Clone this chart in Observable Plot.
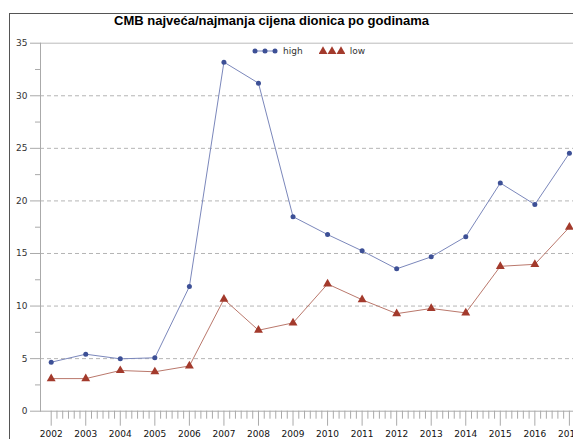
<!DOCTYPE html>
<html>
<head>
<meta charset="utf-8">
<script src="https://cdn.jsdelivr.net/npm/d3@7"></script>
<script src="https://cdn.jsdelivr.net/npm/@observablehq/plot@0.6"></script>
<style>
  html, body { margin: 0; padding: 0; background: #fff; }
  #wrap { position: relative; width: 573px; height: 439px; overflow: hidden; font-family: "Liberation Sans", Arial, sans-serif; }
  #frame { position: absolute; left: 9px; top: 13px; width: 600px; height: 500px; border-left: 1px solid #555; border-top: 1px solid #555; box-sizing: border-box; }
  #title { position: absolute; left: 0px; width: 543px; top: 13px; text-align: center; font-weight: bold; font-size: 13px; color: #000; white-space: nowrap; }
  #chart { position: absolute; left: 0; top: 0; }
  #legend { position: absolute; top: 45px; left: 252px; font-size: 9px; color: #333; display: flex; align-items: center; font-family: "DejaVu Sans", sans-serif; }
  #legend svg { display: block; }
</style>
</head>
<body>
<div id="wrap">
  <div id="frame"></div>
  <div id="chart"></div>
  <div id="title">CMB najveća/najmanja cijena dionica po godinama</div>
  <div id="legend"></div>
</div>
<script>
const years = [2002, 2003, 2004, 2005, 2006, 2007, 2008, 2009, 2010, 2011, 2012, 2013, 2014, 2015, 2016, 2017];
const high = [4.66, 5.42, 4.98, 5.08, 11.85, 33.2, 31.2, 18.5, 16.8, 15.25, 13.54, 14.68, 16.6, 21.7, 19.66, 24.54];
const low = [3.1, 3.1, 3.87, 3.75, 4.3, 10.65, 7.7, 8.4, 12.1, 10.6, 9.28, 9.77, 9.35, 13.78, 13.97, 17.5];
const seriesNames = ["high", "low"];
const yMajor = [0, 5, 10, 15, 20, 25, 30, 35];
const yMinor = [2.5, 7.5, 12.5, 17.5, 22.5, 27.5, 32.5];
const gridValues = [5, 10, 15, 20, 25, 30];

const highColor = "#3d5096", highLine = "#7b87bb";
const lowColor = "#a33a2c", lowLine = "#ba786c";

const rows = [];
years.forEach((yr, i) => {
  rows.push({year: yr, value: high[i], series: seriesNames[0]});
  rows.push({year: yr, value: low[i], series: seriesNames[1]});
});
const minorX = [];
years.forEach(yr => { for (let k = 1; k < 6; k++) minorX.push(yr + k / 6); });

const chart = Plot.plot({
  width: 573,
  height: 439,
  marginLeft: 40,
  marginRight: 0,
  marginTop: 42.7,
  marginBottom: 28.3,
  style: {fontFamily: "'DejaVu Sans', sans-serif", fontSize: "9px", color: "#333", background: "transparent"},
  x: {domain: [2002, 2017], range: [50.7, 568.9]},
  y: {domain: [0, 35]},
  marks: [
    Plot.ruleY(gridValues, {stroke: "#b5b5b5", strokeDasharray: "4,3", strokeWidth: 1}),
    Plot.ruleY([35], {stroke: "#bbb", strokeWidth: 1}),
    Plot.ruleY([0], {stroke: "#aaa", strokeWidth: 1}),
    Plot.frame({anchor: "left", stroke: "#aaa"}),
    Plot.axisY(yMajor, {ticks: yMajor, tickSize: 10, tickPadding: 3, stroke: "#aaa", label: null, tickFormat: d => d, fill: "#333"}),
    Plot.axisY(yMinor, {ticks: yMinor, tickSize: 5, tickFormat: () => "", stroke: "#aaa", label: null}),
    Plot.axisX(years, {ticks: years, tickSize: 15, tickPadding: 4, stroke: "#aaa", label: null, tickFormat: d => String(d), fill: "#111"}),
    Plot.axisX(minorX, {ticks: minorX, tickSize: 8, tickFormat: () => "", stroke: "#aaa", label: null}),
    Plot.line(rows.filter(d => d.series === "high"), {x: "year", y: "value", stroke: highLine, strokeWidth: 1}),
    Plot.line(rows.filter(d => d.series === "low"), {x: "year", y: "value", stroke: lowLine, strokeWidth: 1}),
    Plot.dot(rows.filter(d => d.series === "high"), {x: "year", y: "value", r: 2.5, fill: highColor, stroke: "none"}),
    Plot.dot(rows.filter(d => d.series === "low"), {x: "year", y: "value", r: 3.3, symbol: "triangle", fill: lowColor, stroke: "none"})
  ]
});
document.getElementById("chart").appendChild(chart);

// legend
const legend = document.getElementById("legend");
function item(kind, name, color, lineColor, gap) {
  const span = document.createElement("span");
  span.style.display = "flex";
  span.style.alignItems = "center";
  span.style.marginRight = gap + "px";
  const svg = d3.create("svg").attr("width", 26).attr("height", 12);
  if (kind === "dot") {
    svg.append("line").attr("x1", 3).attr("x2", 23).attr("y1", 6).attr("y2", 6).attr("stroke", lineColor);
    [3, 13, 23].forEach(cx => svg.append("circle").attr("cx", cx).attr("cy", 6).attr("r", 2.5).attr("fill", color));
  } else {
    const sym = d3.symbol(d3.symbolTriangle, Math.PI * 3.3 * 3.3);
    [4, 13, 22].forEach(cx => svg.append("path").attr("d", sym()).attr("transform", `translate(${cx},6.5)`).attr("fill", color));
  }
  span.appendChild(svg.node());
  const t = document.createElement("span");
  t.textContent = name;
  t.style.marginLeft = "5px";
  span.appendChild(t);
  legend.appendChild(span);
}
item("dot", seriesNames[0], highColor, highLine, 16);
item("tri", seriesNames[1], lowColor, lowLine, 0);
</script>
</body>
</html>
